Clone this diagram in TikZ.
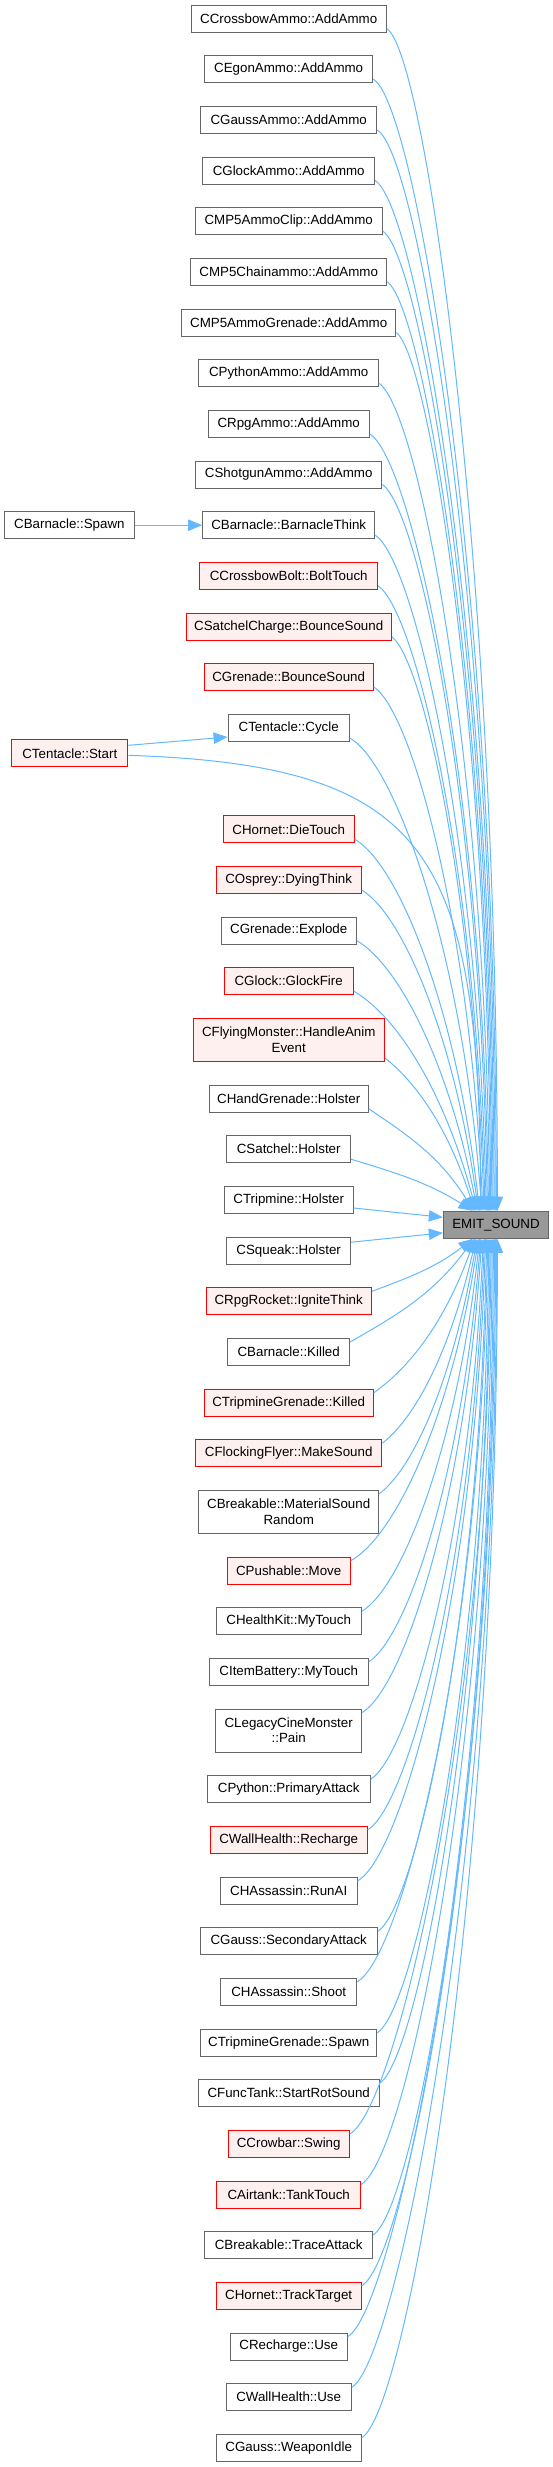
\documentclass[tikz,border=0pt]{standalone}
\usepackage{fontspec}
\setmainfont{Liberation Sans}
\usetikzlibrary{arrows.meta,calc}
\definecolor{edgecol}{HTML}{63B8FF}
\definecolor{gline}{HTML}{666666}
\definecolor{rline}{HTML}{FF0000}
\definecolor{rfill}{HTML}{FFF0F0}
\definecolor{efill}{HTML}{999999}
\tikzset{
 fn/.style={font=\fontsize{10pt}{11.5pt}\selectfont, line width=0.75pt, inner sep=0pt, minimum height=20.25pt, align=center},
 gbox/.style={fn, draw=gline, fill=white},
 rbox/.style={fn, draw=rline, fill=rfill},
 ebox/.style={fn, draw=gline, fill=efill},
 two/.style={minimum height=32.25pt},
 wd/.style={minimum width=#1*0.75pt},
 edge/.style={draw=edgecol, line width=0.75pt, -{Triangle[length=10.5pt,width=8.5pt]}},
}
\newcommand\callup[1]{%
 \draw[edge] let \p1=($(#1.south east)+(0,-4)$), \p2=(emit.north west),
   \n1={max(0,min(1,((\y1)-(\y2))/885))},
   \n2={(\x2)+21.4+19.5*\n1},
   \n3={\n2-(\x1)},
   \n4={(\y1)-(\y2)}
 in (\p1) .. controls ({\x1+min(33.75,0.35*\n3)},{\y1-min(18.75,0.25*\n4)})
   and ({\n2-0.4*\n3*(1-\n1)*(1-\n1)+0pt},{\y2+0.55*\n4}) .. ({\n2+0pt},{\y2});}
\newcommand\calldown[1]{%
 \draw[edge] let \p1=($(#1.north east)+(0,4)$), \p2=(emit.south west),
   \n1={max(0,min(1,((\y2)-(\y1))/885))},
   \n2={(\x2)+21.4+19.5*\n1},
   \n3={\n2-(\x1)},
   \n4={(\y2)-(\y1)}
 in (\p1) .. controls ({\x1+min(33.75,0.35*\n3)},{\y1+min(18.75,0.25*\n4)})
   and ({\n2-0.4*\n3*(1-\n1)*(1-\n1)+0pt},{\y2-0.55*\n4}) .. ({\n2+0pt},{\y2});}
\begin{document}
\begin{tikzpicture}[x=0.75pt,y=-0.75pt]
\useasboundingbox (0,0) rectangle (553,2467);
\node[gbox,wd=195.4] (n1) at (288.7,18.7) {CCrossbowAmmo::AddAmmo};
\node[gbox,wd=168.2] (n2) at (288.7,69.2) {CEgonAmmo::AddAmmo};
\node[gbox,wd=176.3] (n3) at (288.7,120) {CGaussAmmo::AddAmmo};
\node[gbox,wd=171.7] (n4) at (288.7,170.5) {CGlockAmmo::AddAmmo};
\node[gbox,wd=187.3] (n5) at (288.7,221.2) {CMP5AmmoClip::AddAmmo};
\node[gbox,wd=196.1] (n6) at (288.7,271.8) {CMP5Chainammo::AddAmmo};
\node[gbox,wd=214.5] (n7) at (288.7,322.7) {CMP5AmmoGrenade::AddAmmo};
\node[gbox,wd=179.5] (n8) at (288.7,373.3) {CPythonAmmo::AddAmmo};
\node[gbox,wd=161.1] (n9) at (288.7,424) {CRpgAmmo::AddAmmo};
\node[gbox,wd=186.2] (n10) at (288.7,474.5) {CShotgunAmmo::AddAmmo};
\node[gbox,wd=172.1] (n11) at (288.7,525.2) {CBarnacle::BarnacleThink};
\node[rbox,wd=177.7] (n12) at (288.7,575.8) {CCrossbowBolt::BoltTouch};
\node[rbox,wd=205.3] (n13) at (288.7,626.7) {CSatchelCharge::BounceSound};
\node[rbox,wd=169.3] (n14) at (288.7,677) {CGrenade::BounceSound};
\node[gbox,wd=121.2] (n15) at (288.7,728) {CTentacle::Cycle};
\node[rbox,wd=131.1] (n16) at (288.7,829.3) {CHornet::DieTouch};
\node[rbox,wd=145.2] (n17) at (288.7,880) {COsprey::DyingThink};
\node[gbox,wd=135] (n18) at (288.7,930.5) {CGrenade::Explode};
\node[rbox,wd=129.3] (n19) at (288.7,981.2) {CGlock::GlockFire};
\node[rbox,two,wd=191.2] (n20) at (288.7,1039.8) {CFlyingMonster::HandleAnim\\Event};
\node[gbox,wd=159] (n21) at (288.7,1098.7) {CHandGrenade::Holster};
\node[gbox,wd=123.7] (n22) at (288.7,1149.2) {CSatchel::Holster};
\node[gbox,wd=129] (n23) at (288.7,1200) {CTripmine::Holster};
\node[gbox,wd=123.7] (n24) at (288.7,1250.7) {CSqueak::Holster};
\node[rbox,wd=165.4] (n25) at (288.7,1301.3) {CRpgRocket::IgniteThink};
\node[gbox,wd=121.9] (n26) at (288.7,1352) {CBarnacle::Killed};
\node[rbox,wd=169.3] (n27) at (288.7,1402.7) {CTripmineGrenade::Killed};
\node[rbox,wd=186.2] (n28) at (288.7,1453.2) {CFlockingFlyer::MakeSound};
\node[gbox,two,wd=179.9] (n29) at (288.7,1511.8) {CBreakable::MaterialSound\\Random};
\node[rbox,wd=123.3] (n30) at (288.7,1570.7) {CPushable::Move};
\node[gbox,wd=145.2] (n31) at (288.7,1621.3) {CHealthKit::MyTouch};
\node[gbox,wd=159] (n32) at (288.7,1671.8) {CItemBattery::MyTouch};
\node[gbox,two,wd=145.9] (n33) at (288.7,1730.5) {CLegacyCineMonster\\::Pain};
\node[gbox,wd=162.9] (n34) at (288.7,1789.3) {CPython::PrimaryAttack};
\node[rbox,wd=157.2] (n35) at (288.7,1839.8) {CWallHealth::Recharge};
\node[gbox,wd=137.1] (n36) at (288.7,1890.7) {CHAssassin::RunAI};
\node[gbox,wd=177.4] (n37) at (288.7,1941.3) {CGauss::SecondaryAttack};
\node[gbox,wd=136] (n38) at (288.7,1991.8) {CHAssassin::Shoot};
\node[gbox,wd=176.3] (n39) at (288.7,2042.7) {CTripmineGrenade::Spawn};
\node[gbox,wd=180.9] (n40) at (288.7,2093.2) {CFuncTank::StartRotSound};
\node[rbox,wd=121.2] (n41) at (288.7,2144) {CCrowbar::Swing};
\node[rbox,wd=143.5] (n42) at (288.7,2194.5) {CAirtank::TankTouch};
\node[gbox,wd=167.5] (n43) at (288.7,2245) {CBreakable::TraceAttack};
\node[rbox,wd=144.9] (n44) at (288.7,2295.8) {CHornet::TrackTarget};
\node[gbox,wd=117.3] (n45) at (288.7,2346.5) {CRecharge::Use};
\node[gbox,wd=125.1] (n46) at (288.7,2397.2) {CWallHealth::Use};
\node[gbox,wd=144.9] (n47) at (288.7,2447.7) {CGauss::WeaponIdle};
\node[gbox,wd=129.7] (spawn) at (69.4,525.2) {CBarnacle::Spawn};
\node[rbox,wd=116.3] (tstart) at (69.8,753.3) {CTentacle::Start};
\node[ebox,wd=105.3] (emit) at (496,1224.8) {EMIT\_SOUND};
\foreach \k in {1,...,22} {\callup{n\k}}
\foreach \k in {25,...,47} {\calldown{n\k}}
\draw[edge] ($(n23.east)+(0,8)$) -- ($(emit.west)+(0,-7.5)$);
\draw[edge] ($(n24.east)+(0,-8.5)$) -- ($(emit.west)+(0,8)$);
\draw[edge] (spawn) -- (n11);
\draw[edge] ($(tstart.north east)+(0,6)$) -- ($(n15.south west)+(0,-5)$);
\draw[edge] ($(tstart.east)+(0,2)$) .. controls ($(tstart.east)+(300,12)$) and ($(emit.north west)+(36,-360)$) .. ($(emit.north west)+(38,0)$);
\end{tikzpicture}
\end{document}
